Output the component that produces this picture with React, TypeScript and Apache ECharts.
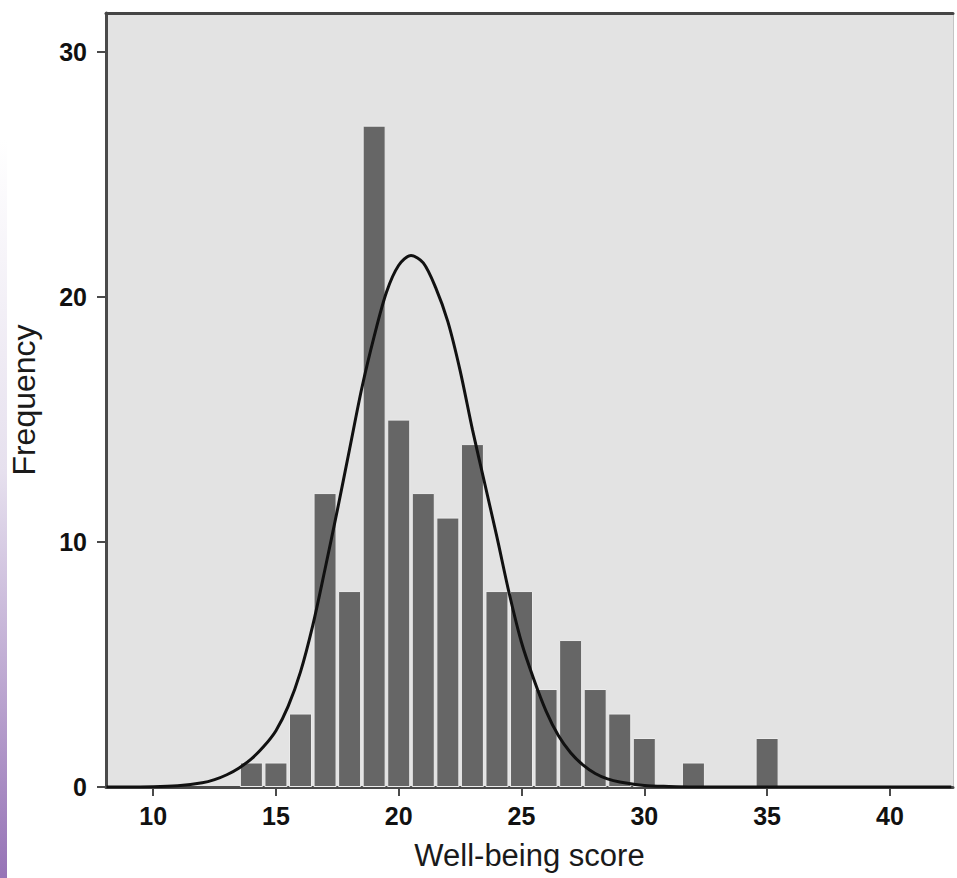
import React, { useEffect, useRef } from "react";
import * as echarts from "echarts";

// Histogram bins (well-being score) and their frequencies
const binCenters = [14, 15, 16, 17, 18, 19, 20, 21, 22, 23, 24, 25, 26, 27, 28, 29, 30, 32, 35];
const frequencies = [1, 1, 3, 12, 8, 27, 15, 12, 11, 14, 8, 8, 4, 6, 4, 3, 2, 1, 2];

// Normal curve
const curveX = [8.1, 10, 11, 12, 12.5, 13, 13.5, 14, 14.5, 15, 15.5, 16, 16.5, 17, 17.5, 18, 18.5, 19, 19.5, 20, 20.5, 21, 21.5, 22, 22.5, 23, 23.5, 24, 24.5, 25, 25.5, 26, 26.5, 27, 27.5, 28, 28.5, 29, 30, 31, 32, 34, 38, 42.5];
const curveY = [0, 0.01, 0.05, 0.17, 0.3, 0.5, 0.78, 1.15, 1.65, 2.3, 3.3, 4.7, 6.6, 8.9, 11.3, 13.8, 16.3, 18.4, 20.2, 21.3, 21.7, 21.4, 20.4, 19.0, 17.0, 14.6, 12.4, 10.2, 7.9, 5.9, 4.4, 3.1, 2.1, 1.4, 0.9, 0.55, 0.33, 0.2, 0.06, 0.02, 0, 0, 0, 0];

const xTicks = [10, 15, 20, 25, 30, 35, 40];
const yTicks = [0, 10, 20, 30];

const xTitle = "Well-being score";
const yTitle = "Frequency";

export default function App() {
  const ref = useRef<HTMLDivElement>(null);
  useEffect(() => {
    if (!ref.current) return;
    const chart = echarts.init(ref.current, null, { renderer: "svg" });
    const tickFont = {
      fontFamily: "Liberation Sans, Arial, sans-serif",
      fontWeight: "bold" as const,
      fontSize: 25,
      color: "#111111",
    };
    const titleFont = {
      fontFamily: "Liberation Sans, Arial, sans-serif",
      fontSize: 31,
      color: "#1a1a1a",
    };
    chart.setOption({
      animation: false,
      backgroundColor: "#ffffff",
      grid: {
        left: 106,
        right: 4,
        top: 13,
        bottom: 91,
        show: true,
        backgroundColor: "#e3e3e3",
        borderWidth: 0,
      },
      graphic: [
        {
          type: "rect",
          left: 0,
          top: 140,
          shape: { width: 7, height: 738 },
          style: {
            fill: new echarts.graphic.LinearGradient(0, 0, 0, 1, [
              { offset: 0, color: "#ffffff" },
              { offset: 0.45, color: "#e6e0ee" },
              { offset: 1, color: "#9673b6" },
            ]),
          },
          silent: true,
        },
      ],
      xAxis: [
        {
          type: "value",
          min: 8.08,
          max: 42.57,
          splitLine: { show: false },
          axisLine: { show: true, onZero: false, lineStyle: { color: "#4a4a4a", width: 3 } },
          axisTick: {
            show: true,
            customValues: xTicks,
            length: 9,
            lineStyle: { color: "#4a4a4a", width: 2 },
          },
          axisLabel: { customValues: xTicks, margin: 16, ...tickFont },
          name: xTitle,
          nameLocation: "middle",
          nameGap: 53,
          nameTextStyle: titleFont,
        },
        {
          type: "value",
          position: "top",
          min: 8.08,
          max: 42.57,
          splitLine: { show: false },
          axisLine: { show: true, onZero: false, lineStyle: { color: "#454545", width: 3 } },
          axisTick: { show: false },
          axisLabel: { show: false },
        },
      ],
      yAxis: [
        {
          type: "value",
          min: 0,
          max: 31.6,
          splitLine: { show: false },
          axisLine: { show: true, onZero: false, lineStyle: { color: "#4a4a4a", width: 3 } },
          axisTick: {
            show: true,
            customValues: yTicks,
            length: 9,
            lineStyle: { color: "#4a4a4a", width: 2 },
          },
          axisLabel: { customValues: yTicks, margin: 19, ...tickFont },
          name: yTitle,
          nameLocation: "middle",
          nameGap: 66,
          nameTextStyle: { ...titleFont, fontSize: 32 },
        },
        {
          type: "value",
          position: "right",
          min: 0,
          max: 31.6,
          splitLine: { show: false },
          axisLine: { show: true, onZero: false, lineStyle: { color: "#c4c4c4", width: 1 } },
          axisTick: { show: false },
          axisLabel: { show: false },
        },
      ],
      series: [
        {
          type: "bar",
          xAxisIndex: 0,
          yAxisIndex: 0,
          barWidth: 23,
          data: binCenters.map((x, i) => [x, frequencies[i]]),
          itemStyle: { color: "#666666", borderColor: "#ececec", borderWidth: 1 },
          silent: true,
        },
        {
          type: "line",
          xAxisIndex: 0,
          yAxisIndex: 0,
          smooth: 0.3,
          symbol: "none",
          data: curveX.map((x, i) => [x, curveY[i]]),
          lineStyle: { color: "#111111", width: 3 },
          silent: true,
          z: 5,
        },
      ],
    });
    return () => chart.dispose();
  }, []);
  return (
    <div
      ref={ref}
      style={{ position: "fixed", left: 0, top: 0, width: 957, height: 878 }}
    />
  );
}
